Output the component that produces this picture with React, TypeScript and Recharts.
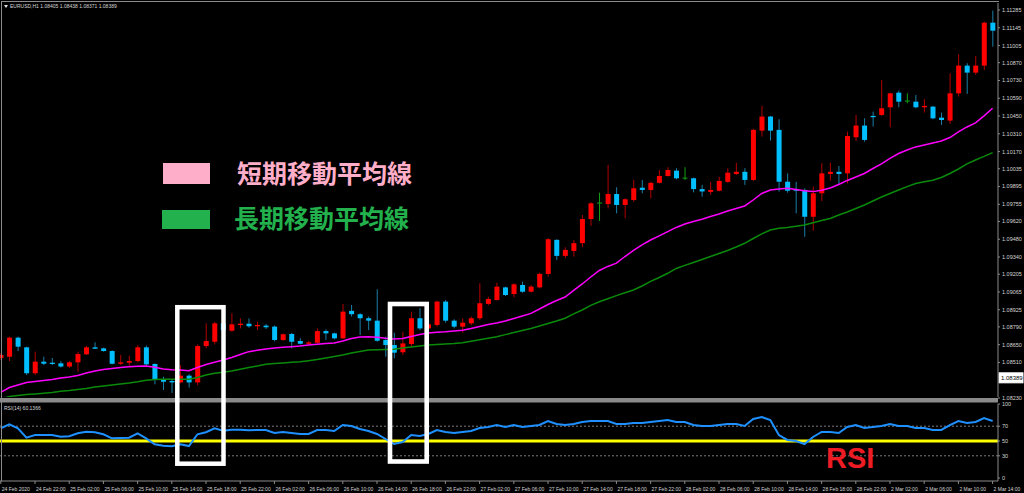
import React from 'react';
import { ComposedChart, Bar, Line, XAxis, YAxis, ReferenceLine } from 'recharts';

// EURUSD H1, 24 Feb 2020 18:00 .. 2 Mar 14:00
const opens = [
  1.08545, 1.08555, 1.08705, 1.08629, 1.08425, 1.08516, 1.08508, 1.08503, 1.08478, 1.08511,
  1.08574, 1.08629, 1.08621, 1.086, 1.085, 1.08508, 1.08521, 1.08629, 1.08498, 1.08372,
  1.08364, 1.08353, 1.08406, 1.08353, 1.08639, 1.08673, 1.08818, 1.0876, 1.08805, 1.08815,
  1.08795, 1.088, 1.08792, 1.08687, 1.08734, 1.08679, 1.08657, 1.08665, 1.08757, 1.08739,
  1.087, 1.08916, 1.0889, 1.08858, 1.08839, 1.08687, 1.08647, 1.0859, 1.08655, 1.08858,
  1.08778, 1.08805, 1.08989, 1.08839, 1.08792, 1.08818, 1.08858, 1.08971, 1.09002, 1.09101,
  1.09049, 1.0912, 1.09067, 1.09101, 1.09207, 1.09475, 1.09349, 1.09388, 1.09449, 1.09639,
  1.09763, 1.09757, 1.09836, 1.0975, 1.09789, 1.09886, 1.09868, 1.09924, 1.09978, 1.1002,
  1.0996, 1.0996, 1.09875, 1.09853, 1.09862, 1.09932, 1.09994, 1.10011, 1.09947, 1.10335,
  1.10446, 1.10341, 1.09933, 1.09876, 1.09868, 1.09657, 1.09842, 1.09994, 1.10011, 1.09999,
  1.10283, 1.10375, 1.10451, 1.10459, 1.10519, 1.10634, 1.10569, 1.10563, 1.10519, 1.10524,
  1.10437, 1.10414, 1.10629, 1.10847, 1.10792, 1.10847, 1.11185,
];
const highs = [
  1.08584, 1.08713, 1.08713, 1.08634, 1.08595, 1.08555, 1.08545, 1.08521, 1.08521, 1.08595,
  1.08639, 1.08669, 1.08626, 1.08606, 1.08569, 1.08563, 1.08647, 1.08642, 1.08503, 1.08398,
  1.0838, 1.0849, 1.08417, 1.08652, 1.08818, 1.08831, 1.08828, 1.08897, 1.08857, 1.08857,
  1.08831, 1.08813, 1.08801, 1.08738, 1.08742, 1.087, 1.08679, 1.08778, 1.0877, 1.08744,
  1.08971, 1.08963, 1.08897, 1.08872, 1.09086, 1.08713, 1.08744, 1.08752, 1.0891, 1.08937,
  1.08828, 1.08997, 1.09002, 1.0885, 1.08857, 1.08872, 1.09133, 1.09028, 1.09138, 1.09107,
  1.09133, 1.09146, 1.0912, 1.09217, 1.09488, 1.0948, 1.09417, 1.09475, 1.09671, 1.09771,
  1.09846, 1.10065, 1.09889, 1.09803, 1.09947, 1.09947, 1.09932, 1.10025, 1.10047, 1.10039,
  1.10047, 1.09965, 1.09908, 1.09932, 1.09972, 1.10039, 1.10082, 1.10039, 1.10349, 1.1053,
  1.10451, 1.10425, 1.09999, 1.09932, 1.09881, 1.09894, 1.10078, 1.10082, 1.10057, 1.10327,
  1.10459, 1.10432, 1.10485, 1.10734, 1.10634, 1.1065, 1.10629, 1.10616, 1.10582, 1.1053,
  1.10477, 1.10787, 1.10936, 1.10866, 1.10923, 1.11193, 1.1128,
];
const lows = [
  1.08529, 1.08521, 1.086, 1.08411, 1.08411, 1.0849, 1.0849, 1.0847, 1.08467, 1.08437,
  1.08569, 1.08616, 1.08595, 1.08495, 1.0849, 1.08484, 1.08511, 1.08484, 1.08338, 1.08293,
  1.0827, 1.08346, 1.08312, 1.0833, 1.08621, 1.08652, 1.08749, 1.08752, 1.08778, 1.08784,
  1.08765, 1.08773, 1.08676, 1.08679, 1.08621, 1.08652, 1.08651, 1.0866, 1.08687, 1.08692,
  1.08695, 1.08872, 1.08726, 1.08765, 1.08673, 1.08555, 1.08543, 1.08569, 1.08634, 1.08765,
  1.08765, 1.08792, 1.08823, 1.08778, 1.08744, 1.08805, 1.08845, 1.0896, 1.08997, 1.09033,
  1.09023, 1.09059, 1.09061, 1.09093, 1.09186, 1.09317, 1.09331, 1.09343, 1.09417, 1.09585,
  1.09624, 1.09723, 1.09684, 1.09645, 1.09776, 1.09842, 1.09802, 1.09919, 1.09973, 1.09953,
  1.09947, 1.09849, 1.09815, 1.09829, 1.09856, 1.09924, 1.09986, 1.09908, 1.09939, 1.10288,
  1.10257, 1.09855, 1.09847, 1.09684, 1.095, 1.09548, 1.09781, 1.09941, 1.09908, 1.0992,
  1.10254, 1.10248, 1.10367, 1.10451, 1.10362, 1.10519, 1.10551, 1.10511, 1.10477, 1.10425,
  1.1038, 1.10388, 1.10603, 1.10624, 1.10774, 1.10813, 1.10996,
];
const closes = [
  1.08569, 1.08705, 1.08634, 1.08425, 1.08516, 1.085, 1.08498, 1.08478, 1.08511, 1.08576,
  1.08629, 1.08618, 1.086, 1.085, 1.08511, 1.08521, 1.08629, 1.08495, 1.08372, 1.08358,
  1.08353, 1.08406, 1.08353, 1.08639, 1.08679, 1.08818, 1.08765, 1.0881, 1.08815, 1.08795,
  1.08805, 1.08787, 1.08687, 1.08732, 1.08673, 1.08657, 1.08668, 1.08757, 1.08739, 1.087,
  1.0891, 1.0889, 1.08858, 1.08839, 1.08681, 1.08647, 1.08587, 1.0866, 1.08858, 1.08778,
  1.0881, 1.08989, 1.08839, 1.08792, 1.08823, 1.08858, 1.08976, 1.0901, 1.09107, 1.09041,
  1.09125, 1.09067, 1.09107, 1.09207, 1.0948, 1.09349, 1.09396, 1.09449, 1.09639, 1.09763,
  1.09765, 1.09836, 1.0975, 1.09795, 1.09881, 1.09868, 1.09924, 1.09978, 1.10025, 1.0996,
  1.09961, 1.09875, 1.09856, 1.09868, 1.09939, 1.10004, 1.10011, 1.09947, 1.10341, 1.10446,
  1.10335, 1.09933, 1.09862, 1.09862, 1.09657, 1.09842, 1.09999, 1.10011, 1.09994, 1.10293,
  1.10375, 1.10262, 1.10441, 1.10511, 1.10629, 1.10563, 1.10568, 1.10519, 1.1053, 1.10432,
  1.10419, 1.10629, 1.10847, 1.10792, 1.10847, 1.11185, 1.11122,
];
const maShort = [
  1.08275, 1.08313, 1.08332, 1.08352, 1.0836, 1.08368, 1.08376, 1.08388, 1.08395, 1.08407,
  1.08427, 1.08443, 1.08455, 1.08462, 1.0847, 1.08477, 1.0848, 1.08482, 1.08472, 1.08458,
  1.08453, 1.08451, 1.08445, 1.0847, 1.08494, 1.08511, 1.08529, 1.08549, 1.08573, 1.08595,
  1.08606, 1.08616, 1.08624, 1.08629, 1.08634, 1.0864, 1.08648, 1.08653, 1.08659, 1.08663,
  1.08679, 1.08699, 1.08711, 1.08713, 1.08708, 1.087, 1.08695, 1.08699, 1.08714, 1.0873,
  1.08742, 1.08747, 1.08751, 1.08758, 1.08764, 1.08777, 1.08793, 1.08809, 1.08821, 1.08836,
  1.08856, 1.08876, 1.08896, 1.08931, 1.08966, 1.08998, 1.09025, 1.09077, 1.09128, 1.09183,
  1.09234, 1.09266, 1.09292, 1.09344, 1.09392, 1.09435, 1.09474, 1.09506, 1.0954, 1.09573,
  1.096, 1.0962, 1.09637, 1.09659, 1.09679, 1.09703, 1.09722, 1.09742, 1.09789, 1.0984,
  1.09868, 1.09876, 1.09881, 1.09872, 1.09862, 1.09855, 1.09866, 1.09884, 1.09911, 1.09943,
  1.0997, 1.09998, 1.10037, 1.10073, 1.10116, 1.10155, 1.10183, 1.10207, 1.10222, 1.10238,
  1.10254, 1.10281, 1.10325, 1.10364, 1.10396, 1.10451, 1.10511,
];
const maLong = [
  1.08222, 1.08242, 1.0825, 1.08258, 1.08262, 1.08267, 1.08273, 1.08283, 1.08289, 1.08297,
  1.08305, 1.08317, 1.08325, 1.08332, 1.0834, 1.08348, 1.08358, 1.0837, 1.08376, 1.08377,
  1.08377, 1.08377, 1.08377, 1.08392, 1.08411, 1.08425, 1.08433, 1.08443, 1.08456, 1.0847,
  1.08482, 1.08496, 1.08502, 1.08506, 1.08511, 1.08516, 1.08524, 1.08533, 1.08545, 1.08557,
  1.08569, 1.08585, 1.08596, 1.08608, 1.0861, 1.08612, 1.08614, 1.08624, 1.08632, 1.0864,
  1.08648, 1.08651, 1.08655, 1.08659, 1.08665, 1.08677, 1.08688, 1.087, 1.08713, 1.08729,
  1.08746, 1.08762, 1.08777, 1.08797, 1.08817, 1.08836, 1.08858, 1.08892, 1.08923, 1.08959,
  1.08988, 1.09012, 1.09036, 1.09059, 1.09081, 1.09112, 1.09148, 1.09179, 1.09212, 1.0925,
  1.09274, 1.09297, 1.09321, 1.09344, 1.09368, 1.09392, 1.09419, 1.09448, 1.09486, 1.09522,
  1.09553, 1.09566, 1.09573, 1.09583, 1.09592, 1.0961, 1.09628, 1.09644, 1.09671, 1.09695,
  1.09722, 1.0975, 1.09781, 1.09813, 1.0984, 1.09868, 1.09894, 1.09919, 1.09932, 1.09945,
  1.09966, 1.09998, 1.10033, 1.10073, 1.10104, 1.10132, 1.10162,
];
const rsi = [
  67.2, 72.6, 67.2, 54.5, 58.1, 58.1, 58.1, 55.8, 56.4, 60.4,
  62.6, 61.8, 59.1, 53.6, 54.1, 54.5, 60.4, 53.6, 45.5, 43.6,
  42.8, 45.5, 43.2, 59.1, 61.8, 67.2, 63.9, 65.3, 65.3, 64.5,
  64.9, 64.9, 60.8, 62.2, 60.8, 59.5, 59.5, 64.9, 64.9, 63.5,
  71.6, 70.3, 66.2, 63.5, 59.5, 52.7, 45.9, 48.6, 58.1, 56.8,
  59.5, 64.9, 62.2, 60.8, 62.2, 63.5, 67.6, 68.9, 71.6, 68.9,
  71.6, 68.9, 70.3, 71.6, 77.0, 73.0, 71.6, 73.0, 75.7, 77.0,
  77.0, 77.0, 73.0, 73.0, 74.3, 74.3, 75.7, 77.0, 78.4, 75.7,
  75.7, 71.6, 70.3, 70.3, 71.6, 73.0, 73.0, 70.3, 79.7, 82.4,
  78.4, 58.1, 51.4, 50.0, 45.9, 55.4, 62.2, 62.2, 60.8, 68.9,
  71.6, 67.6, 68.9, 70.3, 73.0, 70.3, 70.3, 67.6, 67.6, 64.9,
  64.9, 71.6, 77.0, 74.3, 75.7, 81.1, 77.0,
];

const timeLabels = [
  '24 Feb 2020', '24 Feb 22:00', '25 Feb 02:00', '25 Feb 06:00', '25 Feb 10:00', '25 Feb 14:00',
  '25 Feb 18:00', '25 Feb 22:00', '26 Feb 02:00', '26 Feb 06:00', '26 Feb 10:00', '26 Feb 14:00',
  '26 Feb 18:00', '26 Feb 22:00', '27 Feb 02:00', '27 Feb 06:00', '27 Feb 10:00', '27 Feb 14:00',
  '27 Feb 18:00', '27 Feb 22:00', '28 Feb 02:00', '28 Feb 06:00', '28 Feb 10:00', '28 Feb 14:00',
  '28 Feb 18:00', '28 Feb 22:00', '2 Mar 02:00', '2 Mar 06:00', '2 Mar 10:00', '2 Mar 14:00',
];
const priceTicks = [
  1.11285, 1.11145, 1.11005, 1.1087, 1.1073, 1.1059, 1.1045, 1.1031, 1.1017, 1.10035, 1.09895,
  1.09755, 1.0962, 1.0948, 1.0934, 1.09205, 1.09065, 1.08925, 1.0879, 1.0865, 1.0851, 1.0823,
];
const rsiTicks = [0, 30, 50, 70, 100];
const lastPrice = 1.08389;

const rows = opens.map((o, i) => ({
  i,
  open: o,
  high: highs[i],
  low: lows[i],
  close: closes[i],
  maShort: maShort[i],
  maLong: maLong[i],
  rsi: rsi[i],
}));
const labelIdx = timeLabels.map((_, k) => k * 4);

const X_DOMAIN: [number, number] = [-0.0936, 116.63];
const AXIS = '#8c8c8c';
const TXT = '#d6d6d6';
const FONT = '"Liberation Sans", Arial, sans-serif';

const Candle = (props: any) => {
  const { x, y, width, height, payload } = props;
  if (x == null || !payload) return null;
  const top = Math.min(y, y + height);
  const h = Math.abs(height);
  const { open, high, low, close } = payload;
  const span = high - low || 1e-9;
  const py = (p: number) => top + ((high - p) / span) * h;
  const cx = x + width / 2;
  const doji = Math.abs(close - open) < 0.00003;
  if (doji) {
    return (
      <g>
        <line x1={cx} x2={cx} y1={top} y2={top + h} stroke="#12a012" strokeWidth={1} />
        <line x1={x} x2={x + width} y1={py(close)} y2={py(close)} stroke="#12a012" strokeWidth={1} />
      </g>
    );
  }
  const up = close > open;
  const bt = py(Math.max(open, close));
  const bb = py(Math.min(open, close));
  return (
    <g>
      <line x1={cx} x2={cx} y1={top} y2={top + h} stroke={up ? '#b40000' : '#1a7fa8'} strokeWidth={1} />
      <rect x={x} y={bt} width={width} height={Math.max(1, bb - bt)} fill={up ? '#ff0000' : '#00bfff'} />
    </g>
  );
};

const PriceTag = (props: any) => {
  const vb = props.viewBox;
  if (!vb) return null;
  const xr = vb.x + vb.width;
  return (
    <g>
      <rect x={xr + 1} y={vb.y - 5} width={24} height={10} fill="#ffffff" stroke="#ffffff" />
      <text x={xr + 3} y={vb.y + 2.2} fontSize={6} fontFamily={FONT} fill="#000">
        {lastPrice.toFixed(5)}
      </text>
    </g>
  );
};

const TimeTick = (props: any) => {
  const { x, y, index } = props;
  return (
    <text x={x + 1} y={y + 5} fontSize={5} fontFamily={FONT} fill={TXT} textAnchor="start">
      {timeLabels[index] ?? ''}
    </text>
  );
};

export default function App() {
  return (
    <div style={{ position: 'absolute', left: 0, top: 0, width: 1024, height: 493, background: '#000', overflow: 'hidden' }}>
      <div style={{ position: 'absolute', left: 0, top: 0 }}>
        <ComposedChart width={1024} height={404} data={rows} margin={{ top: 3, right: 0, bottom: 7, left: 0 }}>
          <XAxis dataKey="i" type="number" domain={X_DOMAIN} allowDataOverflow hide />
          <YAxis
            orientation="right"
            width={26}
            domain={[1.08238, 1.1134]}
            allowDataOverflow
            ticks={priceTicks}
            interval={0}
            tickFormatter={(v: number) => v.toFixed(5)}
            tick={{ fill: TXT, fontSize: 5.5, fontFamily: FONT }}
            tickSize={2}
            tickMargin={2}
            stroke={AXIS}
          />
          <Bar dataKey={(d: any) => [d.low, d.high]} barSize={5} shape={Candle} isAnimationActive={false} />
          <Line dataKey="maLong" type="linear" dot={false} stroke="#0a8a0a" strokeWidth={1.5} isAnimationActive={false} />
          <Line dataKey="maShort" type="linear" dot={false} stroke="#ff00ff" strokeWidth={1.5} isAnimationActive={false} />
          <ReferenceLine y={lastPrice} stroke="none" ifOverflow="visible" label={<PriceTag />} />
        </ComposedChart>
      </div>
      <div style={{ position: 'absolute', left: 0, top: 397 }}>
        <ComposedChart width={1024} height={96} data={rows} margin={{ top: 7, right: 0, bottom: 0, left: 0 }}>
          <XAxis
            dataKey="i"
            type="number"
            domain={X_DOMAIN}
            allowDataOverflow
            ticks={labelIdx}
            interval={0}
            height={12}
            tickSize={3}
            tick={<TimeTick />}
            stroke={AXIS}
          />
          <YAxis
            orientation="right"
            width={26}
            domain={[-4.05, 100]}
            allowDataOverflow
            ticks={rsiTicks}
            interval={0}
            tick={{ fill: TXT, fontSize: 5.5, fontFamily: FONT }}
            tickSize={2}
            tickMargin={2}
            stroke={AXIS}
          />
          <ReferenceLine y={70} stroke="#9a9a9a" strokeDasharray="2 2" strokeWidth={0.8} />
          <ReferenceLine y={30} stroke="#9a9a9a" strokeDasharray="2 2" strokeWidth={0.8} />
          <ReferenceLine y={50} stroke="#ffff00" strokeWidth={3} />
          <Line dataKey="rsi" type="linear" dot={false} stroke="#1e90ff" strokeWidth={2} isAnimationActive={false} />
        </ComposedChart>
      </div>
      <svg width={1024} height={493} style={{ position: 'absolute', left: 0, top: 0, pointerEvents: 'none' }}>
        <line x1={1.5} x2={1.5} y1={1} y2={481} stroke={AXIS} />
        <line x1={1} x2={999} y1={1.5} y2={1.5} stroke={AXIS} />
        <rect x={0} y={398} width={998} height={4.5} fill="#8a8a8a" />
        <path d="M4,5 L8,5 L6,8 Z" fill="#e0e0e0" />
        <text x={10} y={8} fontSize={5} fontFamily={FONT} fill={TXT}>
          EURUSD,H1  1.08405 1.08438 1.08371 1.08389
        </text>
        <text x={4} y={410} fontSize={5} fontFamily={FONT} fill={TXT}>
          RSI(14) 60.1366
        </text>
        <rect x={177.3} y={307.2} width={46.2} height={156.5} fill="none" stroke="#ffffff" strokeWidth={4.5} />
        <rect x={390} y={304} width={36.7} height={157.5} fill="none" stroke="#ffffff" strokeWidth={4.6} />
        <rect x={163} y={163} width={47} height={21} fill="#ffaec9" />
        <text x={237} y={182.5} fontSize={25} fontWeight="bold" fontFamily='"Noto Sans CJK JP", sans-serif' fill="#ffaec9">
          短期移動平均線
        </text>
        <rect x={162} y={210} width={48} height={19} fill="#22b14c" />
        <text x={234} y={227.5} fontSize={25} fontWeight="bold" fontFamily='"Noto Sans CJK JP", sans-serif' fill="#22b14c">
          長期移動平均線
        </text>
        <text x={826} y={468} fontSize={29} fontWeight="bold" fontFamily={FONT} fill="#ed1c24">
          RSI
        </text>
      </svg>
    </div>
  );
}
